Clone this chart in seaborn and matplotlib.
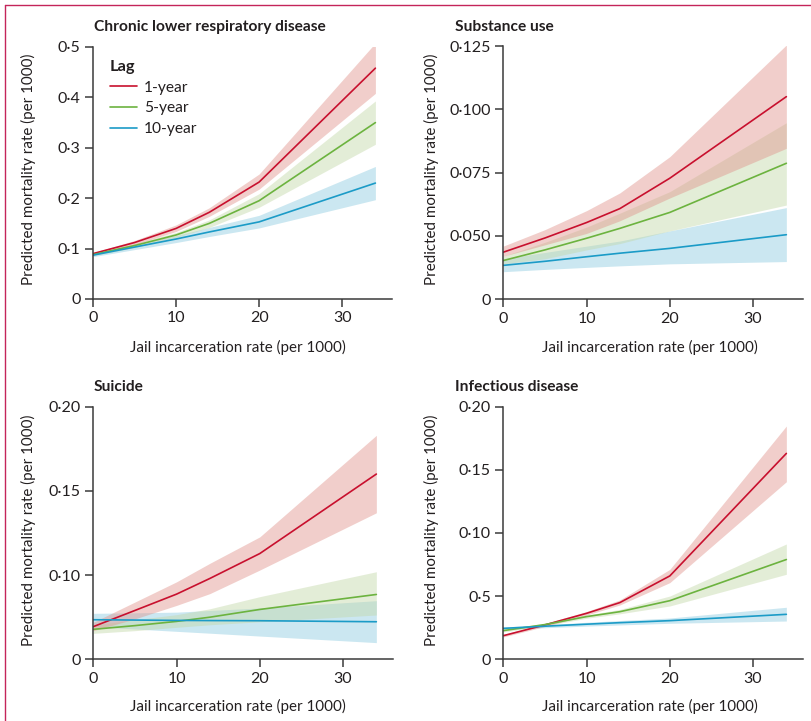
import matplotlib
matplotlib.use("Agg")
import matplotlib.pyplot as plt
from matplotlib.lines import Line2D
import seaborn as sns
import pandas as pd
import numpy as np

# ---------------- data ----------------
x_rate = [0, 5, 10, 14, 20, 34]
lags = ["1-year", "5-year", "10-year"]

# Chronic lower respiratory disease
clrd_1 = [0.090, 0.112, 0.140, 0.172, 0.232, 0.458]
clrd_1_lo = [0.088, 0.108, 0.134, 0.164, 0.218, 0.408]
clrd_1_hi = [0.092, 0.116, 0.147, 0.181, 0.248, 0.508]
clrd_5 = [0.088, 0.106, 0.127, 0.150, 0.195, 0.350]
clrd_5_lo = [0.086, 0.102, 0.122, 0.142, 0.182, 0.307]
clrd_5_hi = [0.090, 0.110, 0.132, 0.157, 0.209, 0.393]
clrd_10 = [0.087, 0.103, 0.119, 0.133, 0.153, 0.230]
clrd_10_lo = [0.084, 0.098, 0.112, 0.124, 0.141, 0.197]
clrd_10_hi = [0.090, 0.108, 0.126, 0.142, 0.166, 0.263]

# Substance use
sub_1 = [0.0436, 0.0492, 0.0553, 0.0608, 0.0728, 0.1050]
sub_1_lo = [0.0420, 0.0465, 0.0510, 0.0560, 0.0650, 0.0846]
sub_1_hi = [0.0460, 0.0525, 0.0600, 0.0670, 0.0813, 0.1254]
sub_5 = [0.0403, 0.0445, 0.0491, 0.0530, 0.0593, 0.0787]
sub_5_lo = [0.0390, 0.0410, 0.0445, 0.0470, 0.0520, 0.0622]
sub_5_hi = [0.0420, 0.0475, 0.0535, 0.0590, 0.0675, 0.0947]
sub_10 = [0.0384, 0.0400, 0.0418, 0.0432, 0.0451, 0.0505]
sub_10_lo = [0.0359, 0.0368, 0.0376, 0.0382, 0.0390, 0.0399]
sub_10_hi = [0.0410, 0.0435, 0.0460, 0.0480, 0.0520, 0.0612]

# Suicide
sui_1 = [0.0694, 0.0790, 0.0887, 0.0980, 0.1128, 0.1600]
sui_1_lo = [0.0670, 0.0740, 0.0820, 0.0890, 0.1030, 0.1370]
sui_1_hi = [0.0720, 0.0840, 0.0960, 0.1070, 0.1227, 0.1830]
sui_5 = [0.0678, 0.0700, 0.0725, 0.0750, 0.0796, 0.0885]
sui_5_lo = [0.0654, 0.0670, 0.0690, 0.0705, 0.0723, 0.0763]
sui_5_hi = [0.0704, 0.0735, 0.0765, 0.0800, 0.0872, 0.1020]
sui_10 = [0.0735, 0.0733, 0.0731, 0.0730, 0.0729, 0.0723]
sui_10_lo = [0.0694, 0.0680, 0.0666, 0.0655, 0.0638, 0.0599]
sui_10_hi = [0.0773, 0.0776, 0.0780, 0.0790, 0.0805, 0.0848]

# Infectious disease
inf_1 = [0.0187, 0.0272, 0.0364, 0.0449, 0.0660, 0.1630]
inf_1_lo = [0.0177, 0.0260, 0.0350, 0.0430, 0.0607, 0.1406]
inf_1_hi = [0.0197, 0.0284, 0.0378, 0.0470, 0.0712, 0.1847]
inf_5 = [0.0227, 0.0275, 0.0338, 0.0377, 0.0464, 0.0790]
inf_5_lo = [0.0217, 0.0265, 0.0325, 0.0360, 0.0422, 0.0673]
inf_5_hi = [0.0237, 0.0285, 0.0350, 0.0395, 0.0501, 0.0913]
inf_10 = [0.0245, 0.0262, 0.0278, 0.0290, 0.0306, 0.0356]
inf_10_lo = [0.0235, 0.0250, 0.0263, 0.0272, 0.0285, 0.0303]
inf_10_hi = [0.0255, 0.0274, 0.0293, 0.0307, 0.0327, 0.0412]

titles = ["Chronic lower respiratory disease", "Substance use", "Suicide", "Infectious disease"]
x_ticks = [0, 10, 20, 30]
x_ticklabels = ["0", "10", "20", "30"]
clrd_yticks = [0, 0.1, 0.2, 0.3, 0.4, 0.5]
clrd_yticklabels = ["0", "0·1", "0·2", "0·3", "0·4", "0·5"]
sub_yticks = [0.025, 0.050, 0.075, 0.100, 0.125]
sub_yticklabels = ["0", "0·050", "0·075", "0·100", "0·125"]
sui_yticks = [0.05, 0.10, 0.15, 0.20]
sui_yticklabels = ["0", "0·10", "0·15", "0·20"]
inf_yticks = [0, 0.05, 0.10, 0.15, 0.20]
inf_yticklabels = ["0", "0·5", "0·10", "0·15", "0·20"]
x_label = "Jail incarceration rate (per 1000)"
y_label = "Predicted mortality rate (per 1000)"

# ---------------- style ----------------
sns.set_theme(style="ticks")
FAM = ["Lato", "DejaVu Sans"]
plt.rcParams["font.family"] = FAM
plt.rcParams["axes.edgecolor"] = "#3a3a3a"
plt.rcParams["xtick.color"] = "#3a3a3a"
plt.rcParams["ytick.color"] = "#3a3a3a"
plt.rcParams["text.color"] = "#231f20"

line_colors = {"1-year": "#c8102e", "5-year": "#6cb33f", "10-year": "#1b9bc7"}
band_colors = {"1-year": "#e0948c", "5-year": "#c3d8a8", "10-year": "#8ccbe0"}

fig = plt.figure(figsize=(8.11, 7.21), dpi=100)
W, H = 811, 721

def ax_at(x0, ytop, x1, ybot):
    return fig.add_axes([x0 / W, 1 - ybot / H, (x1 - x0) / W, (ybot - ytop) / H])

panels = [
    dict(ax=ax_at(93, 47, 392, 299),
         series=[(clrd_1, clrd_1_lo, clrd_1_hi), (clrd_5, clrd_5_lo, clrd_5_hi), (clrd_10, clrd_10_lo, clrd_10_hi)],
         yt=clrd_yticks, ytl=clrd_yticklabels, ylim=(0, 0.5)),
    dict(ax=ax_at(503.3, 46, 803, 299.3),
         series=[(sub_1, sub_1_lo, sub_1_hi), (sub_5, sub_5_lo, sub_5_hi), (sub_10, sub_10_lo, sub_10_hi)],
         yt=sub_yticks, ytl=sub_yticklabels, ylim=(0.025, 0.125)),
    dict(ax=ax_at(93.3, 406.7, 393, 659.3),
         series=[(sui_1, sui_1_lo, sui_1_hi), (sui_5, sui_5_lo, sui_5_hi), (sui_10, sui_10_lo, sui_10_hi)],
         yt=sui_yticks, ytl=sui_yticklabels, ylim=(0.05, 0.20)),
    dict(ax=ax_at(503.3, 406.7, 803, 659.3),
         series=[(inf_1, inf_1_lo, inf_1_hi), (inf_5, inf_5_lo, inf_5_hi), (inf_10, inf_10_lo, inf_10_hi)],
         yt=inf_yticks, ytl=inf_yticklabels, ylim=(0, 0.20)),
]

for i, p in enumerate(panels):
    ax = p["ax"]
    rows = []
    for lag, (mid, lo, hi) in zip(lags, p["series"]):
        for xv, m, l, h in zip(x_rate, mid, lo, hi):
            rows.append(dict(x=xv, y=m, lo=l, hi=h, Lag=lag))
    df = pd.DataFrame(rows)
    for lag in lags[::-1]:
        d = df[df["Lag"] == lag]
        ax.fill_between(d["x"], d["lo"], d["hi"], color=band_colors[lag], alpha=0.45, lw=0)
    sns.lineplot(data=df, x="x", y="y", hue="Lag", hue_order=lags, palette=line_colors,
                 ax=ax, lw=1.2, legend=(i == 0))
    ax.set_xlim(0, 36)
    ax.set_ylim(*p["ylim"])
    ax.set_xticks(x_ticks)
    ax.set_xticklabels(x_ticklabels)
    ax.set_yticks(p["yt"])
    ax.set_yticklabels(p["ytl"])
    ax.set_xlabel("")
    ax.set_ylabel("")
    for s in ["top", "right"]:
        ax.spines[s].set_visible(False)
    for s in ["left", "bottom"]:
        ax.spines[s].set_linewidth(1.1)
    ax.tick_params(axis="both", length=6, width=1.1, labelsize=11.5, pad=3, colors="#3a3a3a")
    for lab in ax.get_xticklabels() + ax.get_yticklabels():
        lab.set_color("#231f20")
    ax.patch.set_alpha(0)

# legend
leg_ax = panels[0]["ax"]
leg = leg_ax.legend(title="Lag", loc="upper left", bbox_to_anchor=(0.02, 0.99), frameon=False,
                    fontsize=11.2, title_fontsize=11.8, handlelength=1.75, handletextpad=0.45,
                    labelspacing=0.42, borderpad=0.2)
leg.get_title().set_fontweight("bold")
leg._legend_box.align = "left"

# titles
title_pos = [(94, 27), (455, 27), (94, 387), (455, 387)]
for t, (tx, ty) in zip(titles, title_pos):
    fig.text(tx / W, 1 - ty / H, t, fontsize=11.2, fontweight="bold", ha="left", va="center")

# axis labels
for cx, cy in [(238, 347), (650, 347), (238, 706), (650, 706)]:
    fig.text(cx / W, 1 - cy / H, x_label, fontsize=10.9, ha="center", va="center")
for cx, cy in [(28, 169), (431, 169), (28, 530), (431, 530)]:
    fig.text(cx / W, 1 - cy / H, y_label, fontsize=10.9, ha="center", va="center", rotation=90)

# frame lines
fig.add_artist(Line2D([5 / W, 5 / W], [0, 1 - 5 / H], color="#c4245a", lw=1.0))
fig.add_artist(Line2D([5 / W, 1], [1 - 5 / H, 1 - 5 / H], color="#c4245a", lw=1.0))

fig.savefig("out.png", dpi=100)
